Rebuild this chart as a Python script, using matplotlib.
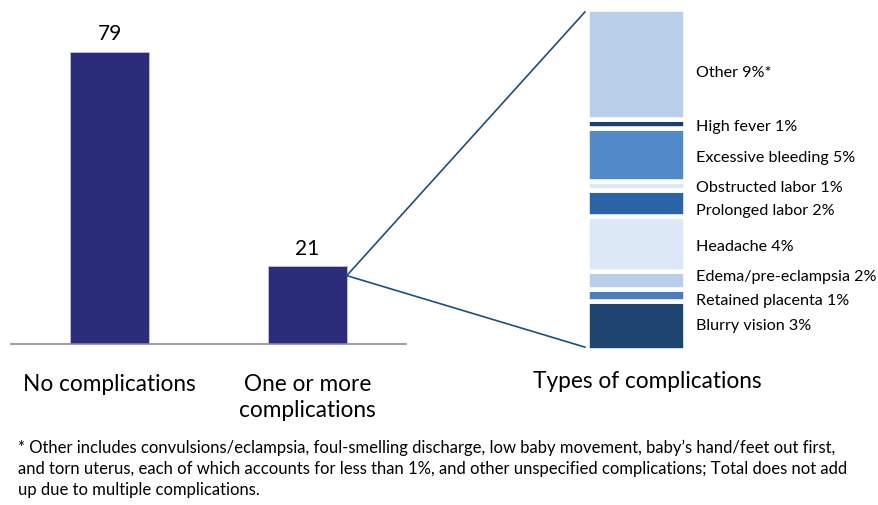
import matplotlib.pyplot as plt
from matplotlib.patches import ConnectionPatch

plt.rcParams['font.family'] = ['Lato', 'DejaVu Sans']

# Left chart: share of women with complications
categories = ['No complications', 'One or more\ncomplications']
shares = [79, 21]

# Right chart: types of complications (bottom to top)
types = ['Blurry vision', 'Retained placenta', 'Edema/pre-eclampsia', 'Headache',
         'Prolonged labor', 'Obstructed labor', 'Excessive bleeding', 'High fever', 'Other']
type_pct = [3, 1, 2, 4, 2, 1, 5, 1, 9]          # labelled values
type_height = [4.0, 1.0, 1.5, 4.5, 2.1, 0.8, 4.3, 0.8, 9.0]  # segment heights
type_colors = ['#1e4470', '#4a7dbd', '#b9cfe9', '#dce8f6', '#2c63a8',
               '#dde8f5', '#5289c8', '#1f3d6b', '#b9cfe9']
label_nudge = [0, -4, 3, -2, -5, -1, -2, -2, -6]   # points, text fine-tuning

footnote = ("* Other includes convulsions/eclampsia, foul-smelling discharge, low baby movement, "
            "baby\u2019s hand/feet out first,\nand torn uterus, each of which accounts for less than 1%, "
            "and other unspecified complications; Total does not add\nup due to multiple complications.")

W, H = 879, 506
fig = plt.figure(figsize=(W / 100, H / 100), dpi=100)

def box(x0, y0, x1, y1):
    # pixel box (top-left origin) -> figure fraction rect
    return [x0 / W, 1 - y1 / H, (x1 - x0) / W, (y1 - y0) / H]

ax = fig.add_axes(box(11, 12, 406, 345))
x = range(len(categories))
bars = ax.bar(x, shares, width=0.4, color='#2b2d7a', edgecolor='#b9bde2', linewidth=0.7)
ax.set_xlim(-0.5, 1.5)
ax.set_ylim(0, 90)
for b, v in zip(bars, shares):
    ax.text(b.get_x() + b.get_width() / 2, v + 2.3, str(v), ha='center', va='bottom', fontsize=15)
for s in ['top', 'right', 'left']:
    ax.spines[s].set_visible(False)
ax.spines['bottom'].set_color('#8c8c8c')
ax.spines['bottom'].set_linewidth(1.2)
ax.set_yticks([])
ax.set_xticks(list(x))
ax.set_xticklabels(categories, fontsize=16.3, linespacing=1.3, va='top')
ax.tick_params(axis='x', length=0, pad=21)

ax2 = fig.add_axes(box(587, 10.4, 685, 350.6))
total = sum(type_height)
bottom = 0
for name, p, h, c, dy in zip(types, type_pct, type_height, type_colors, label_nudge):
    ax2.bar(0.5, h, bottom=bottom, width=1, color=c, edgecolor='white', linewidth=3.3)
    lab = f'{name} {p}%' + ('*' if name == 'Other' else '')
    ax2.annotate(lab, (1, bottom + h / 2), xytext=(8, dy), textcoords='offset points',
                 ha='left', va='center', fontsize=11.6, annotation_clip=False)
    bottom += h
ax2.set_xlim(0, 1)
ax2.set_ylim(0, total)
ax2.axis('off')
fig.text(647 / W, 1 - 371 / H, 'Types of complications', ha='center', va='top', fontsize=16.3)

# zoom connector lines from the second bar to the stacked bar
start = (1 + 0.2, shares[1] * 0.88)
for yy in [total - 0.2, 0.2]:
    con = ConnectionPatch(xyA=start, coordsA=ax.transData, xyB=(-0.02, yy), coordsB=ax2.transData,
                          color='#1f4e7a', linewidth=1.2)
    fig.add_artist(con)

fig.text(18 / W, 1 - 440 / H, footnote, ha='left', va='top', fontsize=12, linespacing=1.38)

fig.savefig('out.png', dpi=100)
